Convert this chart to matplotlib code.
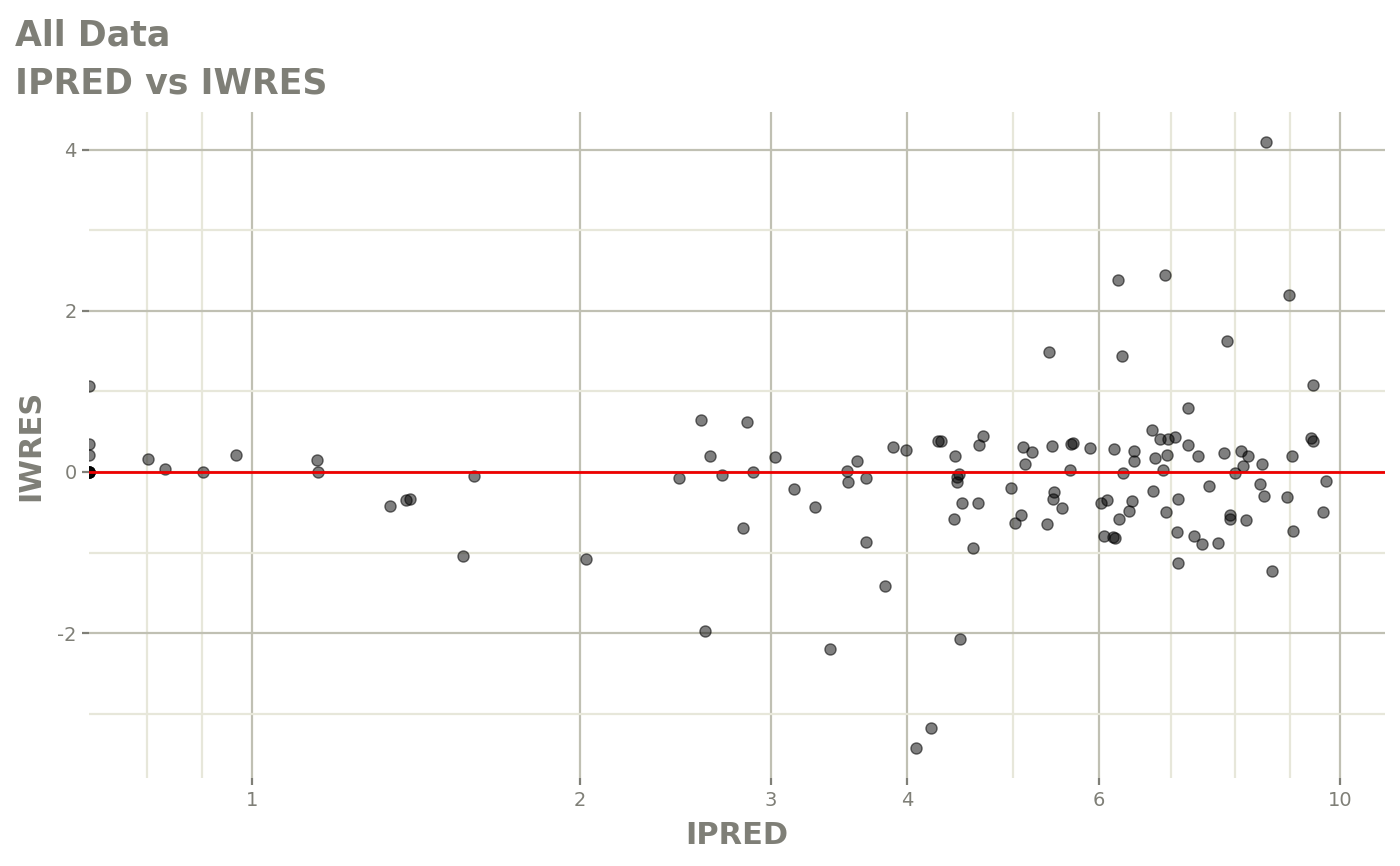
import numpy as np
import matplotlib.pyplot as plt
from matplotlib.ticker import FixedLocator, NullFormatter

# IPRED / IWRES values (points at 0.708 sit on the left panel edge)
ipred = [0.708, 0.708, 0.708, 0.708, 0.708, 0.708, 0.708, 0.708,
         0.802, 0.832, 0.901, 0.967, 1.147, 1.150, 1.339, 1.385, 1.397, 1.563, 1.600, 2.028,
         2.470, 2.588, 2.607, 2.638, 2.705, 2.825, 2.849, 2.886, 3.027, 3.147,
         3.294, 3.398, 3.520, 3.532, 3.597, 3.669, 3.669, 3.814, 3.885, 3.991,
         4.271, 4.295, 4.424, 4.462, 4.443, 4.446, 4.490, 4.648, 4.418, 4.599,
         4.474, 4.661, 4.701, 4.985, 5.023, 5.088, 5.109, 5.137, 5.214, 5.375,
         5.401, 5.436, 5.444, 5.462, 5.553, 5.647, 5.659, 5.686, 5.892, 6.026,
         6.111, 6.068, 6.188, 6.206, 6.194, 6.247, 6.268, 6.300, 6.313, 6.401,
         6.433, 6.469, 6.465, 6.718, 6.727, 6.756, 6.836, 6.871, 6.904, 6.915,
         6.934, 6.944, 7.057, 7.088, 7.102, 7.102, 7.245, 7.255, 7.342, 7.405,
         7.469, 7.580, 7.730, 7.819, 7.874, 7.924, 7.929, 8.013, 8.110, 8.139,
         8.201, 8.230, 8.442, 8.478, 8.513, 8.549, 8.664, 8.933, 8.971, 9.029,
         9.060, 9.404, 9.451, 9.445, 9.641, 9.708, 4.209, 4.077]
iwres = [1.07, 0.35, 0.21, 0.0, 0.0, 0.0, 0.0, 0.0,
         0.16, 0.04, 0.00, 0.21, 0.15, 0.00, -0.42, -0.35, -0.33, -1.04, -0.05, -1.08,
         -0.08, 0.65, -1.97, 0.20, -0.04, -0.70, 0.62, 0.00, 0.18, -0.21,
         -0.43, -2.20, 0.01, -0.12, 0.14, -0.08, -0.87, -1.42, 0.31, 0.27,
         0.39, 0.38, 0.20, -0.03, -0.06, -0.12, -0.38, -0.39, -0.59, -0.94,
         -2.08, 0.33, 0.45, -0.20, -0.63, -0.53, 0.31, 0.10, 0.25, -0.65,
         1.49, 0.32, -0.34, -0.25, -0.45, 0.03, 0.35, 0.36, 0.30, -0.38,
         -0.35, -0.80, -0.81, -0.82, 0.29, 2.39, -0.59, 1.44, -0.01, -0.48,
         -0.36, 0.26, 0.14, 0.52, -0.24, 0.17, 0.41, 0.02, 2.44, -0.50,
         0.21, 0.41, 0.44, -0.74, -0.34, -1.13, 0.80, 0.33, -0.79, 0.20,
         -0.90, -0.17, -0.88, 0.24, 1.63, -0.53, -0.58, -0.01, 0.26, 0.07,
         -0.60, 0.20, -0.15, 0.10, -0.30, 4.10, -1.23, -0.31, 2.20, 0.20,
         -0.73, 0.42, 0.39, 1.08, -0.50, -0.11, -3.18, -3.43]

x_major = [1, 2, 3, 4, 6, 10]
x_minor = [0.8, 0.9, 5, 7, 8, 9]
y_major = [-2, 0, 2, 4]
y_minor = [-3, -1, 1, 3]

txt = '#7f7f77'
grid_major = '#c0c0b3'
grid_minor = '#e7e7da'

fig = plt.figure(figsize=(14, 8.66), dpi=100)
ax = fig.add_axes([89 / 1400, 88 / 866, (1385 - 89) / 1400, (778 - 112) / 866])

ax.scatter(ipred, iwres, s=64, facecolor=(0, 0, 0, 0.5), edgecolor=(0, 0, 0, 0.55),
           linewidths=1.0, zorder=2)
ax.axhline(0, color='#ee0000', lw=2.0, zorder=3)

ax.set_xscale('log')
ax.set_xlim(0.708, 11.0)
ax.set_ylim(-3.80, 4.47)

ax.xaxis.set_major_locator(FixedLocator(x_major))
ax.xaxis.set_minor_locator(FixedLocator(x_minor))
ax.xaxis.set_minor_formatter(NullFormatter())
ax.set_xticklabels([str(v) for v in x_major])
ax.yaxis.set_major_locator(FixedLocator(y_major))
ax.yaxis.set_minor_locator(FixedLocator(y_minor))
ax.set_yticklabels([str(v) for v in y_major])

ax.grid(which='major', color=grid_major, lw=1.6, zorder=0)
ax.grid(which='minor', color=grid_minor, lw=1.6, zorder=0)
ax.set_axisbelow(True)
for s in ax.spines.values():
    s.set_visible(False)

ax.tick_params(which='major', length=5, width=1.6, color=txt, labelcolor=txt,
               labelsize=14, pad=4)
ax.tick_params(which='minor', length=0)

fig.text(15 / 1400, 1 - 46 / 866, 'All Data', fontsize=25, fontweight='bold',
         color=txt, va='baseline', ha='left')
fig.text(15 / 1400, 1 - 93 / 866, 'IPRED vs IWRES', fontsize=25, fontweight='bold',
         color=txt, va='baseline', ha='left')
fig.text(737 / 1400, 1 - 835 / 866, 'IPRED', fontsize=22, fontweight='bold',
         color=txt, va='center', ha='center')
fig.text(31 / 1400, 1 - 445 / 866, 'IWRES', fontsize=22, fontweight='bold',
         color=txt, va='center', ha='center', rotation=90)

fig.savefig('out.png', dpi=100)
